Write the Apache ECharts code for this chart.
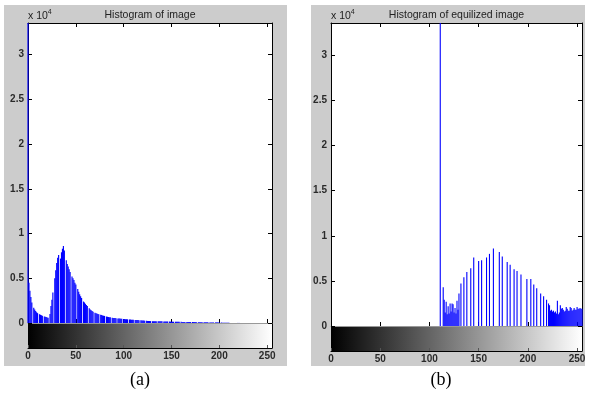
<!DOCTYPE html>
<html>
<head>
<meta charset="utf-8">
<script src="https://cdn.jsdelivr.net/npm/echarts@6/dist/echarts.min.js"></script>
<style>html,body{margin:0;padding:0;background:#fff;}#c{width:595px;height:394px;}</style>
</head>
<body>
<div id="c"></div>
<script>
// ---- data ----
const leftCounts = [
40000,
4500,3600,2900,2300,0,1700,1500,1350,1200,1100,
0,980,920,870,820,0,740,700,660,620,
580,0,1000,1900,2600,3400,0,5000,5900,6700,
7300,7600,0,7200,7900,8300,8600,8100,0,7000,
6600,6300,6000,5700,0,5200,5000,4800,4500,4300,
0,3800,3500,3200,3000,2800,0,2400,2300,2150,
2000,1900,0,1650,1500,1430,1350,1250,0,1150,
1100,1050,1000,970,0,910,880,850,820,790,
0,720,700,680,650,630,0,590,570,560,
550,530,0,510,500,490,480,470,0,450,
440,430,420,410,0,390,380,370,360,350,
0,340,335,330,325,320,0,300,290,280,
270,260,0,240,230,225,220,215,0,205,
200,199,198,197,0,195,194,192,190,186,
0,178,174,170,166,162,0,154,150,146,
144,142,0,138,136,134,132,130,0,126,
124,122,120,118,0,114,112,110,108,106,
0,100,97,94,91,88,0,82,80,78,
76,75,0,73,72,71,70,70,0,69,
68,68,67,67,0,66,65,65,64,62,
0,48,40,34,28,24,20,18,16,14,
12,11,10,10,9,9,8,8,8,7,
7,7,6,6,6,6,5,5,5,5,
5,5,4,4,4,4,4,4,3,3,
3,3,3,3,3,3,3,2,2,2,
2,2,2,2,2
];
const rightBins = [
111,114,
115,116,117,118,119,120,121,122,123,124,125,126,127,128,129,130,
132,135,138,142,145,150,153,158,161,165,171,174,179,182,186,189,193,199,203,206,209,213,216,219,221,
222,223,224,225,226,227,228,229,230,231,232,233,234,235,236,237,238,239,240,241,242,243,244,245,246,247,248,249,250,251,252,253,254,255
];
const rightCounts = [
40000,4300,
2900,1500,2700,1300,2200,1400,2500,1600,2500,2400,1500,2000,1400,2800,1800,3600,
4700,5400,6000,6400,7600,7200,7300,7600,8000,8600,8200,7700,7100,6800,6300,6100,5700,5200,5200,4600,4200,3600,3300,2900,2500,
2300,1700,1800,1600,1700,1500,1600,1400,2800,1300,1500,2300,1900,2000,1800,1600,1700,2100,1900,1700,1700,2100,2000,1700,1800,2000,1800,1800,2100,1900,1900,2000,1900,1900
];
const xTickValues = [0,50,100,150,200,250];
const yTickValues = [0,5000,10000,15000,20000,25000,30000];
const titles = ['Histogram of image','Histogram of equilized image'];
const captions = ['(a)','(b)'];

// ---- layout ----
const panels = [
  {bg:[4,5,283,361], left:28, width:244, top:23, histH:300, barH:25, yMax:33520, xMax:255, cap:140, bw:1.15},
  {bg:[311,5,274,361], left:331, width:251, top:23, histH:303, barH:25, yMax:33600, xMax:255, cap:441, bw:1.1}
];
const FONT = '"Liberation Sans", Arial, sans-serif';
const txtColor = '#2a2a2a';

const grid=[], xAxis=[], yAxis=[], series=[], graphic=[];
panels.forEach((p,i)=>{
  const gH = grid.length;
  grid.push({left:p.left, top:p.top, width:p.width, height:p.histH, show:true, backgroundColor:'#fff', borderWidth:0});
  grid.push({left:p.left, top:p.top+p.histH, width:p.width, height:p.barH, show:true, borderWidth:0,
    backgroundColor:{type:'linear',x:0,y:0,x2:1,y2:0,colorStops:[{offset:0,color:'#000'},{offset:1,color:'#fff'}]}});
  const tickIn = {show:true, inside:true, length:4, lineStyle:{color:'#000',width:1}, customValues:xTickValues};
  const xa = xAxis.length;
  xAxis.push({gridIndex:gH, type:'value', min:0, max:p.xMax, position:'bottom',
    axisLine:{show:true, onZero:false, lineStyle:{color:'#999'}}, axisTick:tickIn, axisLabel:{show:false}, splitLine:{show:false}});
  xAxis.push({gridIndex:gH, type:'value', min:0, max:p.xMax, position:'top',
    axisLine:{show:true, onZero:false, lineStyle:{color:'#000'}}, axisTick:tickIn, axisLabel:{show:false}, splitLine:{show:false}});
  xAxis.push({gridIndex:gH+1, type:'value', min:0, max:p.xMax, position:'bottom',
    axisLine:{show:true, onZero:false, lineStyle:{color:'#000'}},
    axisTick:{show:true, inside:true, length:3, lineStyle:{color:'#555'}, customValues:xTickValues},
    axisLabel:{show:true, customValues:xTickValues, margin:3, fontSize:10, fontFamily:FONT, color:txtColor, fontWeight:'bold'},
    splitLine:{show:false}});
  const ya = yAxis.length;
  const yTick = {show:true, inside:true, length:4, lineStyle:{color:'#000'}, customValues:yTickValues};
  yAxis.push({gridIndex:gH, type:'value', min:0, max:p.yMax, position:'left',
    axisLine:{show:true, onZero:false, lineStyle:{color:'#000'}}, axisTick:yTick,
    axisLabel:{show:true, customValues:yTickValues, margin:4, fontSize:10, fontFamily:FONT, color:txtColor, fontWeight:'bold',
      formatter:v=>String(v/10000)}, splitLine:{show:false}});
  yAxis.push({gridIndex:gH, type:'value', min:0, max:p.yMax, position:'right',
    axisLine:{show:true, onZero:false, lineStyle:{color:'#000'}}, axisTick:yTick, axisLabel:{show:false}, splitLine:{show:false}});
  yAxis.push({gridIndex:gH+1, type:'value', min:0, max:1, position:'left',
    axisLine:{show:true, onZero:false, lineStyle:{color:'#000'}}, axisTick:{show:false}, axisLabel:{show:false}, splitLine:{show:false}});
  yAxis.push({gridIndex:gH+1, type:'value', min:0, max:1, position:'right',
    axisLine:{show:true, onZero:false, lineStyle:{color:'#000'}}, axisTick:{show:false}, axisLabel:{show:false}, splitLine:{show:false}});

  const data = i===0 ? leftCounts.map((v,k)=>[k,v]) : rightBins.map((b,k)=>[b,rightCounts[k]]);
  series.push({type:'bar', xAxisIndex:xa, yAxisIndex:ya, data:data, barWidth:p.bw, clip:true,
    itemStyle:{color:'#0000ff'}, silent:true, animation:false, z:3});

  graphic.push({type:'rect', shape:{x:p.bg[0], y:p.bg[1], width:p.bg[2], height:p.bg[3]}, style:{fill:'#cccccc'}, z:-100, silent:true});
  graphic.push({type:'text', x:p.left+p.width/2, y:15, style:{text:titles[i], font:'10.5px '+FONT, fill:'#222', align:'center', verticalAlign:'middle'}, z:10});
  graphic.push({type:'text', x:p.left, y:16, style:{text:'x 10{s|4}', font:'10.5px '+FONT, fill:'#222', verticalAlign:'middle',
    rich:{s:{fontSize:7, fontFamily:FONT, fill:'#222', padding:[0,0,8,0]}}}, z:10});
  graphic.push({type:'text', x:p.cap, y:380, style:{text:captions[i], font:'18px "Liberation Serif", "Times New Roman", serif', fill:'#000', align:'center', verticalAlign:'middle'}, z:10});
});

const chart = echarts.init(document.getElementById('c'), null, {renderer:'canvas'});
chart.setOption({backgroundColor:'#fff', animation:false, grid, xAxis, yAxis, series, graphic});
</script>
</body>
</html>
